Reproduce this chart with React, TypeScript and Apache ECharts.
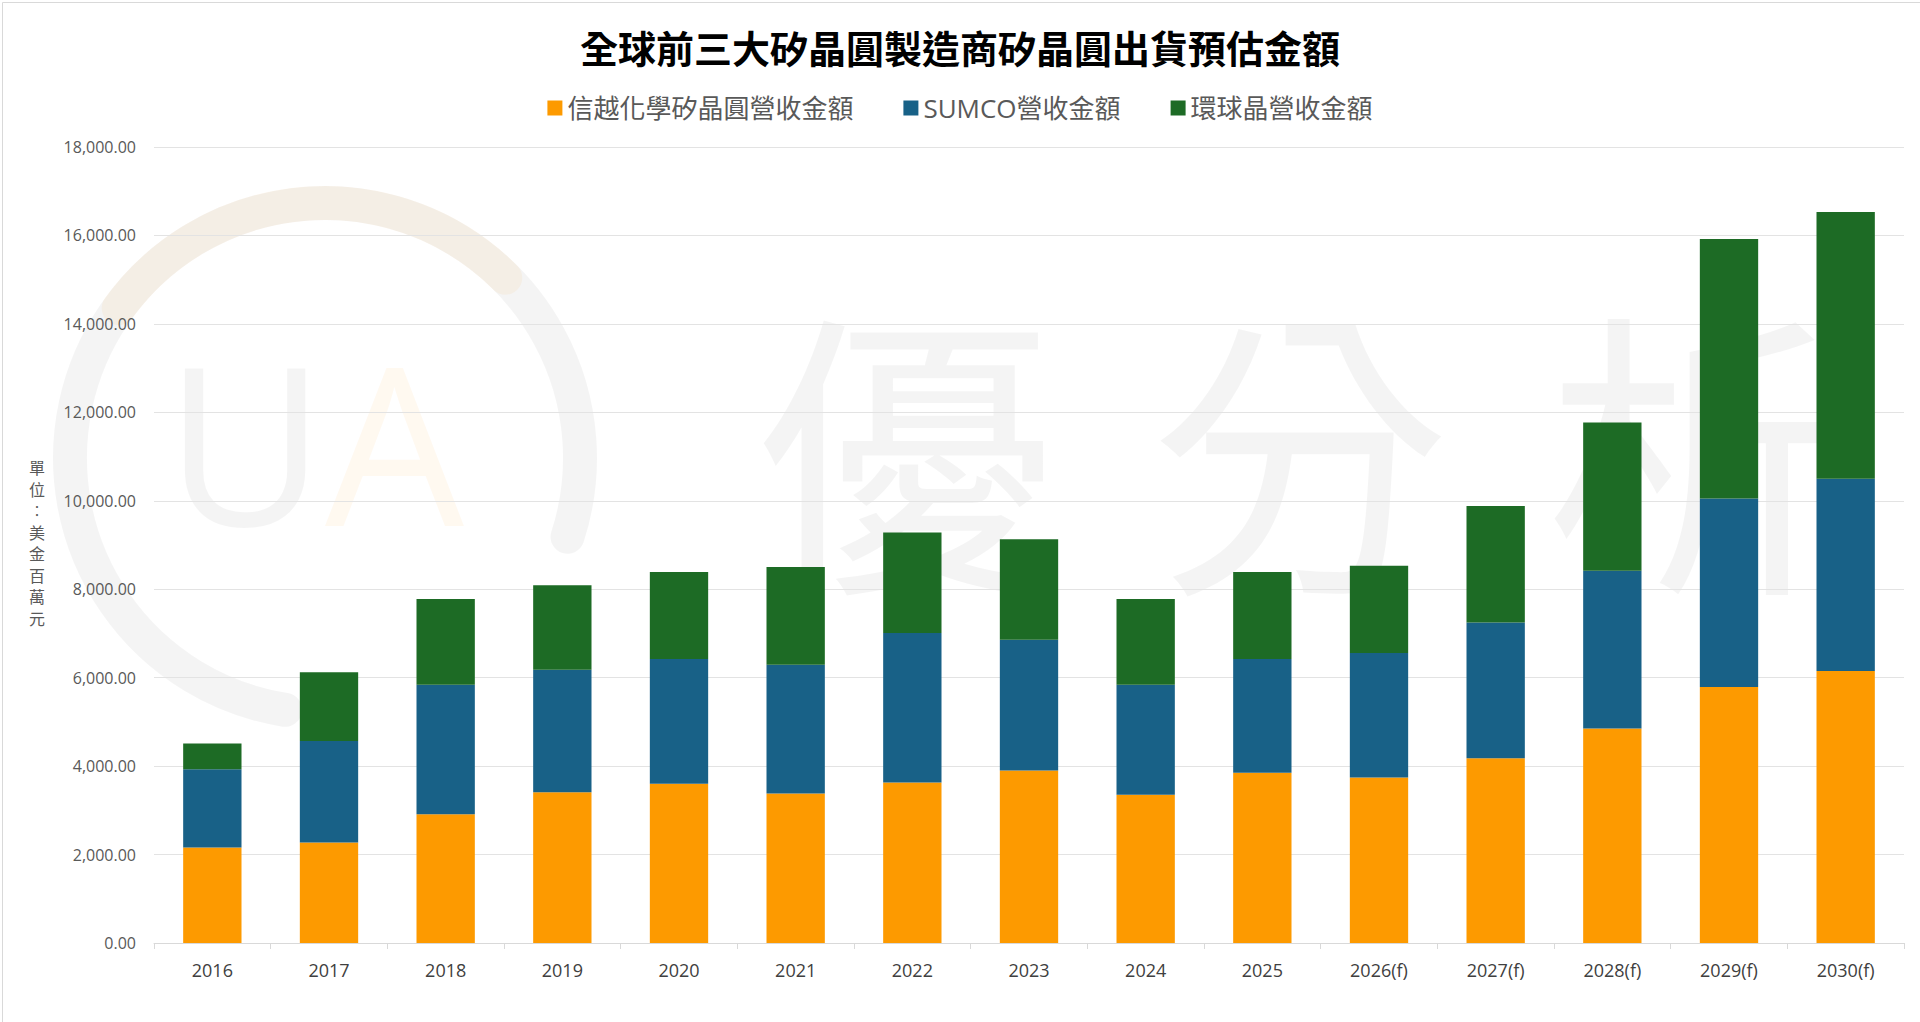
import React, { useEffect, useRef } from "react";
import * as echarts from "echarts";

const years = [
  "2016", "2017", "2018", "2019", "2020", "2021", "2022", "2023",
  "2024", "2025", "2026(f)", "2027(f)", "2028(f)", "2029(f)", "2030(f)",
];

// stacked segment values (USD millions)
const shinEtsu = [2160, 2270, 2910, 3410, 3600, 3380, 3630, 3900, 3350, 3850, 3740, 4180, 4850, 5790, 6150];
const sumco = [1770, 2300, 2930, 2770, 2820, 2910, 3380, 2960, 2490, 2570, 2820, 3070, 3570, 4260, 4350];
const globalWafers = [580, 1550, 1940, 1910, 1970, 2210, 2270, 2270, 1940, 1970, 1970, 2630, 3350, 5870, 6030];

const seriesNames = ["信越化學矽晶圓營收金額", "SUMCO營收金額", "環球晶營收金額"];
const colors = ["#fd9a00", "#186187", "#1d6b25"];

const yTicks = [0, 2000, 4000, 6000, 8000, 10000, 12000, 14000, 16000, 18000];
const unitChars = ["單", "位", "︰", "美", "金", "百", "萬", "元"];

const FONT = "'Open Sans', 'Noto Sans CJK TC', sans-serif";
const CJK = "'Noto Sans CJK TC', sans-serif";

export default function App() {
  const chartRef = useRef<HTMLDivElement>(null);

  useEffect(() => {
    if (!chartRef.current) return;
    const chart = echarts.init(chartRef.current, undefined, { renderer: "svg" });

    const data = [shinEtsu, sumco, globalWafers];
    const wm = "rgba(0,0,0,0.045)";
    const wmText = (text: string, left: number) => ({
      type: "text",
      z: -10,
      silent: true,
      left,
      top: 290,
      style: { text, fontSize: 300, fontFamily: CJK, fill: wm },
    });

    // vertical unit label, one upright character per line
    const unitLabel = unitChars.map((ch, i) => ({
      type: "text",
      x: 37,
      y: 459 + i * 21.5,
      style: {
        text: ch,
        fontFamily: CJK,
        fontSize: 16,
        fill: "#595959",
        align: "center",
        verticalAlign: "top",
      },
    }));

    const option: any = {
      animation: false,
      backgroundColor: "#ffffff",
      title: {
        text: "全球前三大矽晶圓製造商矽晶圓出貨預估金額",
        left: "center",
        top: 22,
        textStyle: { fontFamily: CJK, fontSize: 38, fontWeight: "bold", color: "#000" },
      },
      legend: {
        top: 90,
        left: "center",
        itemWidth: 15,
        itemHeight: 15,
        itemGap: 50,
        icon: "rect",
        textStyle: { fontFamily: FONT, fontSize: 26, color: "#595959" },
        data: seriesNames,
      },
      grid: { left: 154, right: 16, top: 147, bottom: 79 },
      xAxis: {
        type: "category",
        data: years,
        axisLine: { lineStyle: { color: "#d9d9d9" } },
        axisTick: { show: true, alignWithLabel: false, length: 6, lineStyle: { color: "#d9d9d9" } },
        axisLabel: { fontFamily: FONT, fontSize: 18, color: "#404040", margin: 18 },
      },
      yAxis: {
        type: "value",
        min: yTicks[0],
        max: yTicks[yTicks.length - 1],
        interval: 2000,
        axisLine: { show: false },
        axisTick: { show: false },
        splitLine: { lineStyle: { color: "#e3e3e3", width: 1 } },
        axisLabel: {
          fontFamily: FONT,
          fontSize: 16,
          color: "#595959",
          margin: 18,
          formatter: (v: number) =>
            v.toLocaleString("en-US", { minimumFractionDigits: 2, maximumFractionDigits: 2 }),
        },
      },
      graphic: [
        // faint watermark logo
        {
          type: "arc",
          z: -10,
          silent: true,
          shape: { cx: 325, cy: 458, r: 255, startAngle: Math.PI * 0.55, endAngle: Math.PI * 2.1 },
          style: { stroke: wm, lineWidth: 34, fill: "none", lineCap: "round" },
        },
        {
          type: "arc",
          z: -10,
          silent: true,
          shape: { cx: 325, cy: 458, r: 255, startAngle: Math.PI * 1.2, endAngle: Math.PI * 1.75 },
          style: { stroke: "rgba(253,154,0,0.06)", lineWidth: 34, fill: "none", lineCap: "round" },
        },
        {
          type: "text",
          z: -10,
          silent: true,
          left: 165,
          top: 330,
          style: { text: "U", fontSize: 220, fontFamily: FONT, fill: wm },
        },
        {
          type: "text",
          z: -10,
          silent: true,
          left: 325,
          top: 330,
          style: { text: "A", fontSize: 220, fontFamily: FONT, fill: "rgba(253,154,0,0.06)" },
        },
        wmText("優", 755),
        wmText("分", 1150),
        wmText("析", 1545),
        ...unitLabel,
        {
          type: "rect",
          left: 0,
          top: 0,
          silent: true,
          shape: { width: 1919, height: 1021 },
          style: { fill: "none", stroke: "#d9d9d9", lineWidth: 1 },
        },
      ],
      series: seriesNames.map((name, i) => ({
        name,
        type: "bar",
        stack: "total",
        barWidth: "50%",
        itemStyle: { color: colors[i] },
        data: data[i],
      })),
    };

    chart.setOption(option);
    const onResize = () => chart.resize();
    window.addEventListener("resize", onResize);
    return () => {
      window.removeEventListener("resize", onResize);
      chart.dispose();
    };
  }, []);

  return (
    <div
      ref={chartRef}
      style={{ position: "fixed", left: 0, top: 0, width: "100vw", height: "100vh" }}
    />
  );
}
